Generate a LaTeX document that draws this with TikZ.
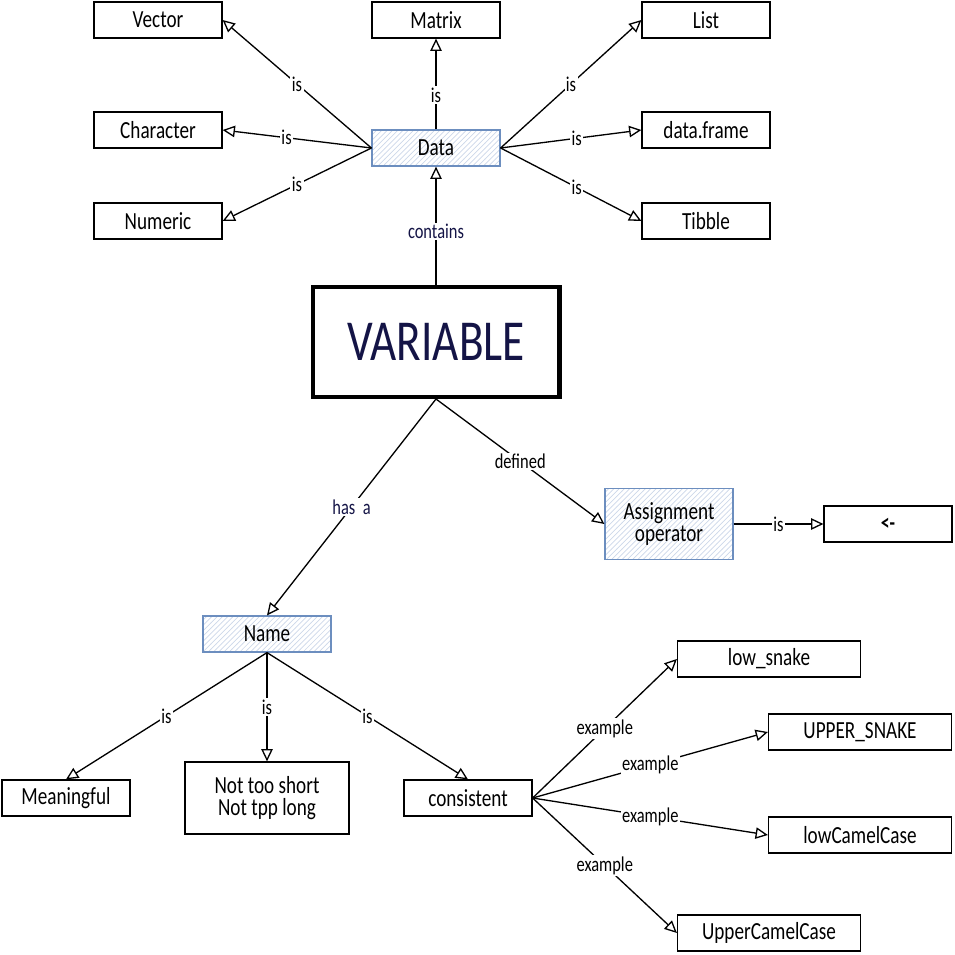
\documentclass[tikz,border=0pt]{standalone}
\usepackage{fontspec}
\setmainfont{Carlito}[FakeStretch=0.78]
\usetikzlibrary{arrows.meta,patterns}
\definecolor{hatchblue}{RGB}{108,142,191}
\definecolor{inknavy}{RGB}{20,20,70}

\tikzset{
  concept/.style={draw, line width=0.7pt, minimum width=2.56cm, minimum height=0.72cm,
    inner sep=1pt, font=\fontsize{14}{15}\selectfont},
  hatched/.style={concept, draw=hatchblue, pattern=north east lines, pattern color=hatchblue!35},
  link/.style={-{Triangle[open,length=7pt,width=6.5pt]}, line width=0.75pt},
  tag/.style={fill=white, inner sep=0.8pt, font=\fontsize{12}{13}\selectfont},
}

\begin{document}
\begin{tikzpicture}[x=0.02cm,y=-0.02cm]
  \useasboundingbox (0,0) rectangle (955,955);

  % centre
  \node [concept, line width=2.3pt, minimum width=4.94cm, minimum height=2.2cm,
    text=inknavy, font=\fontsize{33}{36}\selectfont] (variable) at (436,342) {VARIABLE};

  % data types
  \node [hatched] (data) at (436,148) {Data};
  \node [concept] (vector) at (158,20) {Vector};
  \node [concept] (matrix) at (436,20) {Matrix};
  \node [concept] (list) at (706,20) {List};
  \node [concept] (character) at (158,130) {Character};
  \node [concept] (dataframe) at (706,130) {data.frame};
  \node [concept] (numeric) at (158,221) {Numeric};
  \node [concept] (tibble) at (706,221) {Tibble};

  % assignment
  \node [hatched, minimum height=1.42cm, align=center] (assign) at (669,524) {Assignment\\[-2pt]operator};
  \node [concept, font=\bfseries\fontsize{13}{14}\selectfont] (arrowop) at (888,524) {<-};

  % naming
  \node [hatched] (name) at (267,634) {Name};
  \node [concept] (meaningful) at (66,798) {Meaningful};
  \node [concept, minimum width=3.28cm, minimum height=1.44cm, align=center] (length) at (267,798) {Not too short\\[-2pt]Not tpp long};
  \node [concept] (consistent) at (468,798) {consistent};
  \node [concept, minimum width=3.66cm] (lowsnake) at (769,659) {low\_snake};
  \node [concept, minimum width=3.66cm] (uppersnake) at (860,732) {UPPER\_SNAKE};
  \node [concept, minimum width=3.66cm] (lowcamel) at (860,835) {lowCamelCase};
  \node [concept, minimum width=3.66cm] (uppercamel) at (769,933) {UpperCamelCase};

  % connectors
  \draw [link] (variable.north) -- node[tag, text=inknavy, pos=0.45] {contains} (data.south);
  \draw [link] (data.west) -- node[tag] {is} (vector.east);
  \draw [link] (data.west) -- node[tag, pos=0.57] {is} (character.east);
  \draw [link] (data.west) -- node[tag] {is} (numeric.east);
  \draw [link] (data.north) -- node[tag, pos=0.38] {is} (matrix.south);
  \draw [link] (data.east) -- node[tag] {is} (list.west);
  \draw [link] (data.east) -- node[tag, pos=0.54] {is} (dataframe.west);
  \draw [link] (data.east) -- node[tag, pos=0.54] {is} (tibble.west);

  \draw [link] (variable.south) -- node[tag, text=inknavy] {has\ \ a} (name.north);
  \draw [link] (variable.south) -- node[tag] {defined} (assign.west);
  \draw [link] (assign.east) -- node[tag] {is} (arrowop.west);

  \draw [link] (name.south) -- node[tag] {is} (meaningful.north);
  \draw [link] (name.south) -- node[tag] {is} (length.north);
  \draw [link] (name.south) -- node[tag] {is} (consistent.north);

  \foreach \target in {lowsnake,uppersnake,lowcamel,uppercamel}
    \draw [link] (consistent.east) -- node[tag] {example} (\target.west);
\end{tikzpicture}
\end{document}
